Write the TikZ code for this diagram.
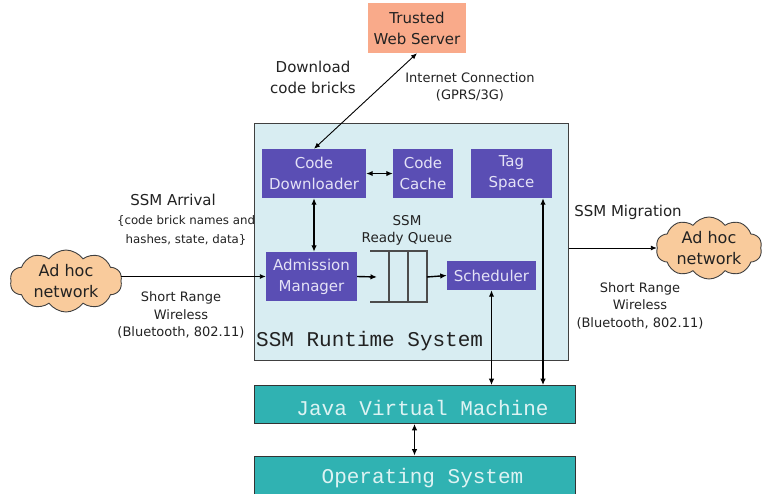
\documentclass[tikz,border=0pt]{standalone}
\usepackage{fontspec}
\setmainfont{DejaVu Sans}
\setmonofont{Liberation Mono}
\usetikzlibrary{shapes.symbols,arrows.meta}
\definecolor{purp}{HTML}{5A4EB4}
\definecolor{purptxt}{HTML}{E4E2F6}
\definecolor{rtfill}{HTML}{D8EDF2}
\definecolor{tealbox}{HTML}{30B2B2}
\definecolor{tealtxt}{HTML}{DDF3F3}
\definecolor{salmon}{HTML}{F9AA8A}
\definecolor{peach}{HTML}{F9CB9C}
\definecolor{txt}{HTML}{222222}
\begin{document}
\begin{tikzpicture}[x=1pt,y=-1pt,
  big/.style={font=\fontsize{15}{21}\selectfont, text=txt, align=center, inner sep=0pt},
  small/.style={font=\fontsize{13}{17.5}\selectfont, text=txt, align=center, inner sep=0pt},
  pbox/.style={fill=purp, text=purptxt, font=\fontsize{15}{21}\selectfont, align=center, inner sep=0pt},
  tbox/.style={fill=tealbox, draw=black!80, line width=0.8pt, inner sep=0pt},
  mono/.style={font=\ttfamily\fontsize{21}{21}\selectfont, inner sep=0pt},
  cl/.style={cloud, cloud puffs=10, cloud puff arc=110, aspect=1.9, draw=black!75, line width=0.9pt, fill=peach, inner sep=0pt, font=\fontsize{16}{21}\selectfont, text=txt, align=center},
  arr/.style={line width=1.4pt, {Latex[length=6.5pt,width=5.5pt]}-{Latex[length=6.5pt,width=5.5pt]}},
  arrthin/.style={line width=0.9pt, {Latex[length=6pt,width=5pt]}-{Latex[length=6pt,width=5pt]}},
  arrone/.style={line width=0.9pt, -{Latex[length=6pt,width=5pt]}},
  arronethick/.style={line width=1.4pt, -{Latex[length=6.5pt,width=5.5pt]}},
  qline/.style={draw=black!70, line width=1.1pt},
]
\useasboundingbox (0,0) rectangle (763,493);
\fill[white] (0,0) rectangle (763,493);

% top server
\node[fill=salmon, minimum width=98pt, minimum height=50pt, big] (tws) at (417,28) {Trusted\\Web Server};

% runtime system
\node[fill=rtfill, draw=black!75, line width=1pt, minimum width=314pt, minimum height=237pt, inner sep=0pt] (rts) at (411,241.5) {};
\node[mono, anchor=west, text=txt] (rtl) at (256,341) {SSM Runtime System};

\node[pbox, minimum width=104pt, minimum height=49pt] (cd) at (314,173.5) {Code\\Downloader};
\node[pbox, minimum width=60pt, minimum height=49pt] (cc) at (423,173.5) {Code\\Cache};
\node[pbox, minimum width=81pt, minimum height=49pt] (ts) at (511.5,173.5) {Tag\\Space};
\node[pbox, minimum width=91pt, minimum height=49pt] (am) at (311.5,276.5) {Admission\\Manager};
\node[pbox, minimum width=89pt, minimum height=29pt] (sch) at (491.5,275.5) {Scheduler};

% ready queue
\node[small, font=\fontsize{13.5}{17}\selectfont] (rql) at (407,230) {SSM\\Ready Queue};
\coordinate (qtl) at (370,251);
\coordinate (qtr) at (427,251);
\coordinate (qbr) at (427,302);
\coordinate (qbl) at (370,302);
\coordinate (qin) at (377,277);
\coordinate (qout) at (427,277);
\draw[qline] (qtl) -- (qtr) -- (qbr) -- (qbl);
\draw[qline] (389,251) -- (389,302);
\draw[qline] (408,251) -- (408,302);

% JVM and OS
\node[tbox, minimum width=321pt, minimum height=38pt] (jvm) at (414.5,404.5) {};
\node[mono, text=tealtxt] (jvml) at (422.5,408) {Java Virtual Machine};
\node[tbox, minimum width=321pt, minimum height=50pt] (os) at (414.5,481) {};
\node[mono, text=tealtxt] (osl) at (422.5,478) {Operating System};
\coordinate (tagx) at (543,0);

% clouds
\node[cl, minimum width=112pt, minimum height=62pt] (lc) at (66,281) {Ad hoc\\network};
\node[cl, minimum width=106pt, minimum height=62pt] (rc) at (709,248) {Ad hoc\\network};

% labels
\node[big] (dl) at (313,77) {Download\\code bricks};
\node[small] (ic) at (470,87) {Internet Connection\\(GPRS/3G)};
\node[big] (sa) at (173,200) {SSM Arrival};
\node[small, font=\fontsize{11.8}{19}\selectfont] (sad) at (186,230.5) {\{code brick names and\\hashes, state, data\}};
\node[small] (srl) at (181,315) {Short Range\\Wireless\\(Bluetooth, 802.11)};
\node[big] (sm) at (628,212) {SSM Migration};
\node[small] (srr) at (640,305.5) {Short Range\\Wireless\\(Bluetooth, 802.11)};

% connectors
\draw[arrthin] (cd.north) -- (tws.south);
\draw[arr] (cd.east) -- (cc.west);
\draw[arr] (cd.south) -- (cd.south |- am.north);
\draw[arronethick] (am.east) -- (qin);
\draw[arronethick] (qout) -- (sch.west);
\draw[arrone] (am.west -| lc.east) -- (am.west);
\draw[arrone] (rc.west -| rts.east) -- (rc.west);
\draw[arr] (sch.south) -- (sch.south |- jvm.north);
\draw[arr] (ts.south -| tagx) -- (jvm.north -| tagx);
\draw[arr] (jvm.south) -- (os.north);
\end{tikzpicture}
\end{document}
